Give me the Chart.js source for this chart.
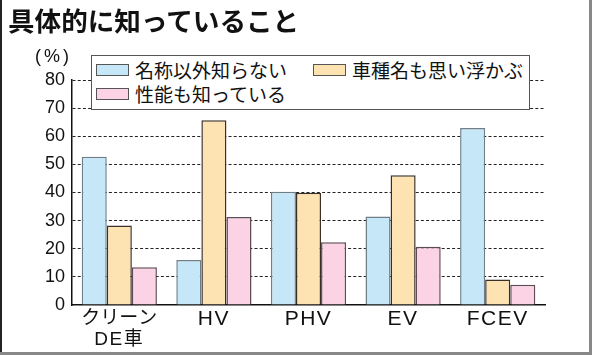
<!DOCTYPE html>
<html><head><meta charset="utf-8">
<script src="https://cdn.jsdelivr.net/npm/chart.js@4/dist/chart.umd.min.js"></script>
<style>
html,body{margin:0;padding:0;background:#fff;}
#wrap{position:relative;width:592px;height:355px;overflow:hidden;background:#fff;font-family:"Noto Sans CJK JP","Noto Sans",sans-serif;color:#111;}
#c{position:absolute;left:0;top:0;}
#title{position:absolute;left:8px;top:7px;font-size:26.6px;line-height:26px;font-weight:bold;white-space:nowrap;}
#unit{position:absolute;left:35px;top:46px;font-size:18px;line-height:20px;letter-spacing:3px;font-family:"Liberation Sans","Noto Sans CJK JP",sans-serif;}
#legend{position:absolute;left:91px;top:55px;width:437px;height:53px;border:1.5px solid #555;background:#fff;}
.li{position:absolute;font-size:19px;line-height:20px;white-space:nowrap;}
.sw{position:absolute;width:31px;height:10px;border:1.5px solid #555;}
#bl{position:absolute;left:0;top:0;width:2px;height:355px;background:#222;}
#br{position:absolute;right:0;top:0;width:3px;height:355px;background:#888;}
#bb{position:absolute;left:0;top:352px;width:592px;height:3px;background:#888;}
</style></head>
<body><div id="wrap">
<canvas id="c" width="592" height="355"></canvas>
<div id="title">具体的に知っていること</div>
<div id="unit">(%)</div>
<div id="legend"></div>
<div id="bl"></div><div id="br"></div><div id="bb"></div>
</div>
<script>
const categories = [["クリーン","DE車"], "HV", "PHV", "EV", "FCEV"];
const seriesNames = ["名称以外知らない", "車種名も思い浮かぶ", "性能も知っている"];
const nameOnly = [52.7, 16.0, 40.3, 31.5, 62.9];
const modelKnown = [28.3, 65.7, 39.9, 46.1, 9.1];
const performanceKnown = [13.4, 31.3, 22.3, 20.7, 7.2];
const yTicks = [0, 10, 20, 30, 40, 50, 60, 70, 80];

const fills = ["#c6e7f8", "#fde2b2", "#fcd2e5"];
const borders = ["#6f7f88", "#3a302a", "#5e4c54"];
const values = [nameOnly, modelKnown, performanceKnown];

// legend (HTML, built from series names)
const legendPos = [[4, 6], [221, 6], [4, 30]];
const lg = document.getElementById('legend');
seriesNames.forEach((n, i) => {
  const sw = document.createElement('div');
  sw.className = 'sw';
  sw.style.left = legendPos[i][0] + 'px';
  sw.style.top = (legendPos[i][1] + 2) + 'px';
  sw.style.background = fills[i];
  lg.appendChild(sw);
  const t = document.createElement('div');
  t.className = 'li';
  t.textContent = n;
  t.style.left = (legendPos[i][0] + 39) + 'px';
  t.style.top = (legendPos[i][1] - 2) + 'px';
  lg.appendChild(t);
});

// latin letters in x labels are slightly spaced in the original
const spacedXLabels = {
  id: 'spacedXLabels',
  afterLayout(chart) {
    const sx = chart.scales.x;
    if (sx && !sx._spaced) {
      const orig = sx.drawLabels;
      sx.drawLabels = function (area) {
        const ctx = this.ctx;
        const origFill = ctx.fillText;
        ctx.fillText = function (text, x, y, mw) {
          this.letterSpacing = /[A-Z]/.test(text) ? '1.5px' : '0px';
          return mw === undefined ? origFill.call(this, text, x, y) : origFill.call(this, text, x, y, mw);
        };
        ctx.save();
        orig.call(this, area);
        ctx.restore();
        ctx.fillText = origFill;
        ctx.letterSpacing = '0px';
      };
      sx._spaced = true;
    }
  }
};

new Chart(document.getElementById('c'), {
  type: 'bar',
  data: {
    labels: categories,
    datasets: seriesNames.map((n, i) => ({
      label: n,
      data: values[i],
      backgroundColor: fills[i],
      borderColor: borders[i],
      borderWidth: {top: 1.5, left: 1.5, right: 1.5, bottom: 0},
      borderSkipped: 'bottom',
      barPercentage: 1.0,
      categoryPercentage: 0.795
    }))
  },
  plugins: [spacedXLabels],
  options: {
    responsive: false,
    devicePixelRatio: 1,
    animation: false,
    layout: {padding: {top: 80, left: 0, right: 47, bottom: 0}},
    plugins: {legend: {display: false}, tooltip: {enabled: false}, title: {display: false}},
    scales: {
      x: {
        grid: {display: false, drawTicks: false},
        border: {display: true, color: '#111', width: 1.5},
        ticks: {
          color: '#111',
          padding: 3.5,
          maxRotation: 0,
          autoSkip: false,
          font: ctx => ({
            family: '"Liberation Sans","Noto Sans CJK JP",sans-serif',
            size: ctx.index === 0 ? 19 : 21,
            lineHeight: ctx.index === 0 ? 1.08 : 1.0
          })
        },
        afterFit: s => { s.height = 50; }
      },
      y: {
        min: 0, max: 80,
        afterBuildTicks: s => { s.ticks = yTicks.map(v => ({value: v})); },
        grid: {
          color: ctx => ctx.tick && ctx.tick.value === 0 ? 'rgba(0,0,0,0)' : '#222',
          lineWidth: 1,
          drawTicks: false
        },
        border: {display: true, color: '#111', width: 1.5, dash: [3, 2.2]},
        ticks: {
          color: '#111',
          padding: 7,
          font: {family: '"Liberation Sans",sans-serif', size: 18}
        },
        afterFit: s => { s.width = 72; }
      }
    }
  }
});
</script>
</body></html>
